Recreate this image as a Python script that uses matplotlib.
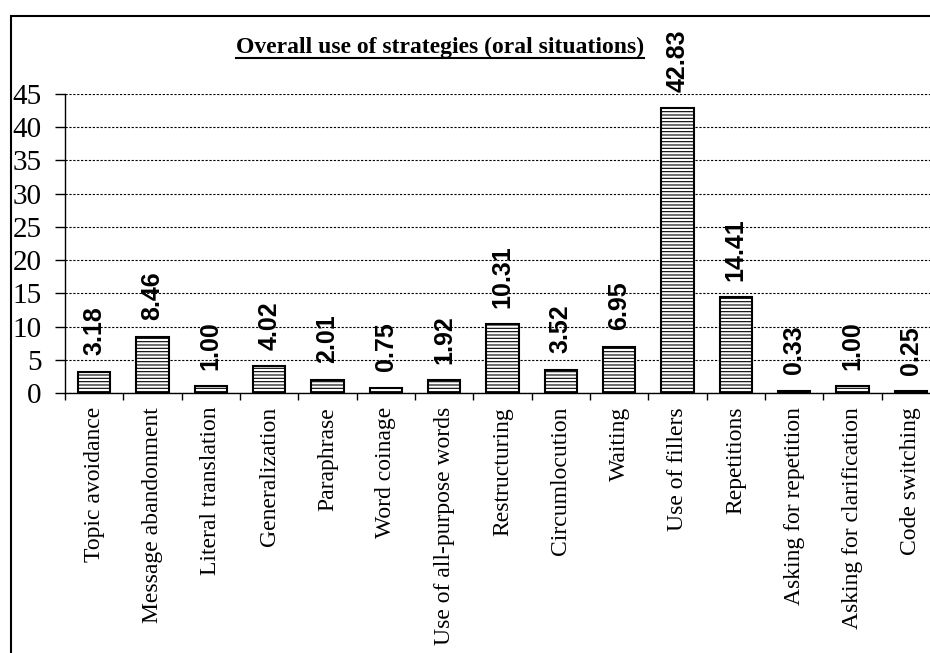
import matplotlib.pyplot as plt
from matplotlib.patches import Rectangle
from matplotlib.lines import Line2D

# Strategy categories and their overall use (%)
strategies = ["Topic avoidance", "Message abandonment", "Literal translation",
              "Generalization", "Paraphrase", "Word coinage",
              "Use of all-purpose words", "Restructuring", "Circumlocution",
              "Waiting", "Use of fillers", "Repetitions",
              "Asking for repetition", "Asking for clarification", "Code switching"]
values = [3.18, 8.46, 1.00, 4.02, 2.01, 0.75, 1.92, 10.31, 3.52,
          6.95, 42.83, 14.41, 0.33, 1.00, 0.25]
y_ticks = [0, 5, 10, 15, 20, 25, 30, 35, 40, 45]

W, H = 930, 653
plt.rcParams['hatch.linewidth'] = 0.8
fig = plt.figure(figsize=(W / 100, H / 100), dpi=100)

# outer frame (runs off the right and bottom edge like the cropped original)
fig.add_artist(Rectangle((11 / W, -0.2), 1.5, 1 - 16 / H + 0.2,
                         transform=fig.transFigure, fill=False,
                         edgecolor="black", linewidth=1.5))

ax = fig.add_axes([65 / W, 1 - 393 / H, 875 / W, (393 - 94) / H])

positions = [i + 0.5 for i in range(len(values))]
bars = ax.bar(positions, values, width=0.55, color="white",
              edgecolor="black", linewidth=1.5, hatch="-----", zorder=3)

for x, v in zip(positions, values):
    ax.annotate(f"{v:.2f}", (x, v), xytext=(0, 12), textcoords="offset points",
                rotation=90, ha="center", va="bottom", fontsize=18,
                fontweight="bold", family="Liberation Sans")

ax.set_xlim(0, len(values))
ax.set_ylim(0, 45)
ax.set_yticks(y_ticks)
ax.set_yticklabels([str(t) for t in y_ticks], family="Liberation Serif", fontsize=21)
ax.tick_params(axis="y", direction="out", length=7, width=1, pad=10)

# ticks sit between categories, labels sit under the bars
ax.set_xticks(range(len(values) + 1))
ax.set_xticklabels([])
ax.tick_params(axis="x", which="major", direction="out", length=5, width=1)
ax.set_xticks(positions, minor=True)
ax.set_xticklabels(strategies, minor=True, rotation=90, va="top", ha="center",
                   family="Liberation Serif", fontsize=17)
ax.tick_params(axis="x", which="minor", length=0, pad=10)

ax.spines["top"].set_visible(False)
ax.spines["right"].set_visible(False)
ax.spines["left"].set_linewidth(1)
ax.spines["bottom"].set_linewidth(1)
ax.yaxis.grid(True, color="black", linestyle=(0, (2, 1.5)), linewidth=0.8)
ax.set_axisbelow(True)

# underlined title
title = fig.text(440 / W, 1 - 53 / H, "Overall use of strategies (oral situations)",
                 ha="center", va="baseline", fontsize=17, fontweight="bold",
                 family="Liberation Serif")
fig.canvas.draw()
bb = title.get_window_extent()
uy = (H - 58) / H
fig.add_artist(Line2D([bb.x0 / W, bb.x1 / W], [uy, uy], transform=fig.transFigure,
                      color="black", linewidth=1.5))

fig.savefig("out.png", dpi=100)
